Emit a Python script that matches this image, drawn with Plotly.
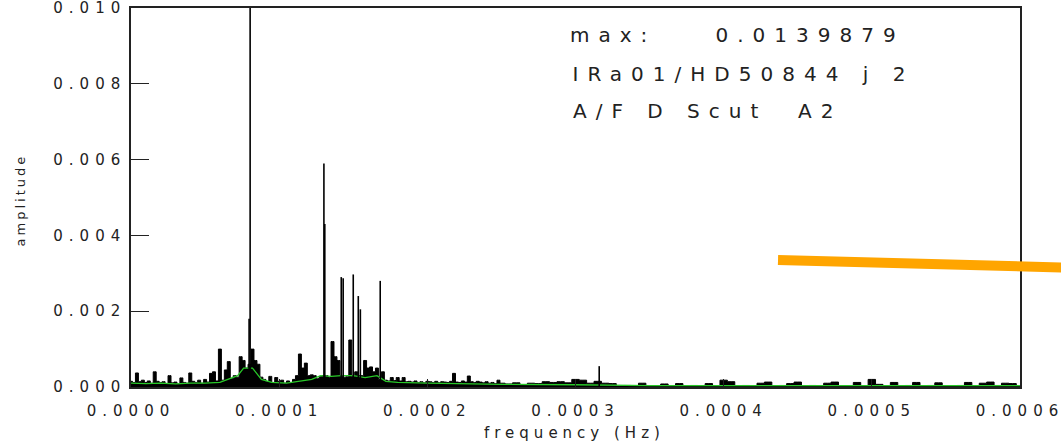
import plotly.graph_objects as go

# Amplitude spectrum, low-frequency part: bins every 2 µHz from 0 µHz, amplitudes in units of 1e-4
lo_start_uhz = 0
lo_step_uhz = 2
noise_lo = [
    1.5, 1.2, 3.7, 1.4, 1.8, 1.2, 1.6, 1.0, 4.0, 1.5,
    1.2, 1.4, 0.9, 3.0, 1.1, 1.3, 0.8, 2.4, 1.2, 1.0,
    3.7, 1.5, 1.2, 1.8, 1.0, 2.0, 1.3, 3.6, 4.0, 1.6,
    10.0, 1.8, 4.5, 6.7, 2.2, 3.0, 2.6, 8.0, 7.0, 5.0,
    6.0, 10.0, 7.0, 6.0, 2.6, 2.0, 1.4, 2.8, 1.2, 2.5,
    1.5, 1.8, 1.0, 1.6, 1.2, 2.0, 3.0, 8.7, 5.0, 6.3,
    3.0, 3.2, 3.0, 2.2, 2.8, 3.0, 3.0, 2.5, 12.0, 8.0,
    7.0, 3.0, 2.6, 2.7, 12.4, 2.8, 4.0, 3.0, 3.0, 7.0,
    5.0, 5.3, 4.0, 5.0, 2.0, 4.0, 1.8, 1.6, 2.5, 1.7,
    2.5, 1.6, 2.5, 1.4, 1.5, 1.3, 1.6, 1.2, 1.4, 1.1,
    1.5, 1.4, 1.2, 1.5, 1.1, 1.4, 1.3, 1.2, 1.5, 3.6,
    1.3, 1.2, 1.6, 1.3, 2.9, 1.4, 1.2, 1.5, 1.3, 1.1,
    1.4, 1.0, 1.2, 0.9, 1.8,
]

# High-frequency part: bins every 5 µHz from 250 µHz, amplitudes in units of 1e-4
hi_start_uhz = 250
hi_step_uhz = 5
noise_hi = [
    1.0, 0.8, 1.1, 0.6, 1.0, 0.9, 1.4, 1.2, 1.4, 1.1,
    2.0, 1.8, 1.0, 1.5, 1.0, 0.9, 0.25, 0.4, 0.25, 1.0,
    0.25, 0.25, 0.8, 0.25, 0.9, 0.25, 0.4, 0.25, 0.9, 0.25,
    1.8, 1.4, 0.25, 0.4, 0.25, 1.0, 1.3, 0.25, 0.4, 0.9,
    1.3, 0.25, 0.4, 0.25, 1.0, 1.3, 0.25, 0.25, 1.2, 0.25,
    2.0, 0.7, 0.25, 1.2, 0.25, 0.4, 1.2, 0.25, 0.4, 1.1,
    0.25, 0.25, 0.4, 1.2, 0.25, 1.0, 1.3, 0.4, 1.0, 0.9,
    0.25,
]

# Pulsation peaks (frequency in µHz, amplitude)
peak_freq_uhz = [79.7, 80.4, 130.2, 130.8, 141.9, 143.2, 150.0, 153.4, 154.8, 168.2, 316.0]
peak_amp = [0.0018, 0.0139879, 0.0059, 0.0043, 0.0029, 0.00287, 0.00297, 0.0024, 0.00205, 0.0028, 0.00055]

# Mean noise level (frequency in µHz, amplitude in units of 1e-4)
mean_freq_uhz = [0, 10, 20, 30, 40, 50, 60, 66, 72, 76, 82, 88, 95, 105, 115, 122, 128, 135,
                 142, 150, 158, 166, 172, 180, 200, 250, 300, 350, 400, 500, 600]
mean_amp = [1.0, 0.9, 1.0, 0.8, 1.0, 1.0, 1.2, 2.0, 3.0, 5.0, 5.0, 2.0, 1.2, 1.0, 1.5, 2.0, 3.0, 2.8,
            3.0, 3.0, 2.5, 3.0, 1.5, 1.2, 1.0, 0.7, 0.6, 0.35, 0.35, 0.35, 0.35]

star_label = "IRa01/HD50844 j 2"
class_label = "A/F D Scut\u00a0 A2"

UHZ = 1e-6
U4 = 1e-4
X_RANGE = [0, 0.0006]
Y_RANGE = [0, 0.0100001]

noise_x = [(lo_start_uhz + i * lo_step_uhz) * UHZ for i in range(len(noise_lo))]
noise_x += [(hi_start_uhz + i * hi_step_uhz) * UHZ for i in range(len(noise_hi))]
noise_y = [v * U4 for v in noise_lo + noise_hi]

peak_x, peak_y = [], []
for f, a in zip(peak_freq_uhz, peak_amp):
    peak_x += [f * UHZ, f * UHZ, None]
    peak_y += [0, a, None]

fig = go.Figure()
fig.add_trace(go.Scatter(
    x=noise_x, y=noise_y, mode="lines", line=dict(color="black", width=1, shape="hvh"),
    fill="tozeroy", fillcolor="black",
))
fig.add_trace(go.Scatter(
    x=[f * UHZ for f in mean_freq_uhz], y=[v * U4 for v in mean_amp],
    mode="lines", line=dict(color="rgb(40,200,40)", width=1.3), hoverinfo="skip",
))
fig.add_trace(go.Scatter(
    x=peak_x, y=peak_y, mode="lines", line=dict(color="black", width=1.6),
))

tick_font = dict(family="DejaVu Sans", size=15, color="#222")
axis_common = dict(
    showline=True, linecolor="#222", linewidth=1.5, mirror=True,
    ticks="inside", tickcolor="#222", tickwidth=1.2, showgrid=False, zeroline=False,
    tickfont=tick_font, ticklabeloverflow="allow",
)


def tick_axis(overlaying, rng, dtick, ticklen, side, position):
    """Label-free axis whose outward ticks point into the plot from one frame edge."""
    return dict(
        overlaying=overlaying, anchor="free", position=position, side=side,
        range=rng, dtick=dtick, tick0=0, ticks="outside", ticklen=ticklen,
        tickcolor="#222", tickwidth=1.2, showticklabels=False, showline=False,
        showgrid=False, zeroline=False,
    )


fig.update_layout(
    xaxis=dict(range=X_RANGE, dtick=0.0001, tick0=0, tickformat=".4f", ticklen=8,
               ticklabelstandoff=9, **axis_common),
    yaxis=dict(range=Y_RANGE, dtick=0.002, tick0=0, tickformat=".3f", ticklen=18,
               **axis_common),
    # major and minor ticks on the bottom and top edges
    xaxis2=tick_axis("x", X_RANGE, 0.0001, 8, "top", 0),
    xaxis3=tick_axis("x", X_RANGE, 0.0001, 8, "bottom", 1),
    xaxis4=tick_axis("x", X_RANGE, 0.00001, 4, "top", 0),
    xaxis5=tick_axis("x", X_RANGE, 0.00001, 4, "bottom", 1),
    # major and minor ticks on the left and right edges
    yaxis2=tick_axis("y", Y_RANGE, 0.002, 18, "right", 0),
    yaxis3=tick_axis("y", Y_RANGE, 0.002, 18, "left", 1),
    yaxis4=tick_axis("y", Y_RANGE, 0.0005, 9, "right", 0),
    yaxis5=tick_axis("y", Y_RANGE, 0.0005, 9, "left", 1),
)

ann_font = dict(family="DejaVu Sans", size=20, color="#222")
max_amp = max(peak_amp)
annotations = [
    dict(text="max:", x=0.5422, y=0.929),
    dict(text=f"{max_amp:.7f}", x=0.7638, y=0.929),
    dict(text=star_label, x=0.6890, y=0.827),
    dict(text=class_label, x=0.6485, y=0.729),
]
for a in annotations:
    fig.add_annotation(xref="paper", yref="paper", showarrow=False, xanchor="center",
                       yanchor="middle", font=ann_font, **a)

fig.add_annotation(text="frequency (Hz)", xref="paper", yref="paper", x=0.4994, y=-0.121,
                   showarrow=False, xanchor="center", yanchor="middle",
                   font=dict(family="DejaVu Sans", size=15, color="#222"))
fig.add_annotation(text="amplitude", xref="paper", yref="paper", x=-0.1249, y=0.4934,
                   textangle=-90, showarrow=False, xanchor="center", yanchor="middle",
                   font=dict(family="DejaVu Sans", size=13, color="#222"))

# Orange pointer stroke across the right-hand side
fig.add_shape(type="line", xref="paper", yref="paper", x0=0.7278, y0=0.335, x1=1.06, y1=0.3145,
              line=dict(color="#FFA500", width=10), layer="above")

fig.update_layout(
    width=1061, height=448,
    margin=dict(l=131, r=41, t=8, b=61, autoexpand=False),
    paper_bgcolor="white", plot_bgcolor="white", showlegend=False,
)

spread_js = """
var gd = document.getElementById('{plot_id}');
function spreadText() {
  gd.querySelectorAll('.xtick text, .ytick text').forEach(function (t) {
    t.setAttribute('letter-spacing', '6px');
  });
  gd.querySelectorAll('.annotation-text').forEach(function (t) {
    var s = t.textContent;
    var ls = '9px';
    if (s === 'frequency (Hz)') { ls = '5px'; }
    else if (s === 'amplitude') { ls = '3px'; }
    t.setAttribute('letter-spacing', ls);
  });
}
gd.on('plotly_afterplot', spreadText);
spreadText();
"""

fig.write_html("out.html", post_script=spread_js)
